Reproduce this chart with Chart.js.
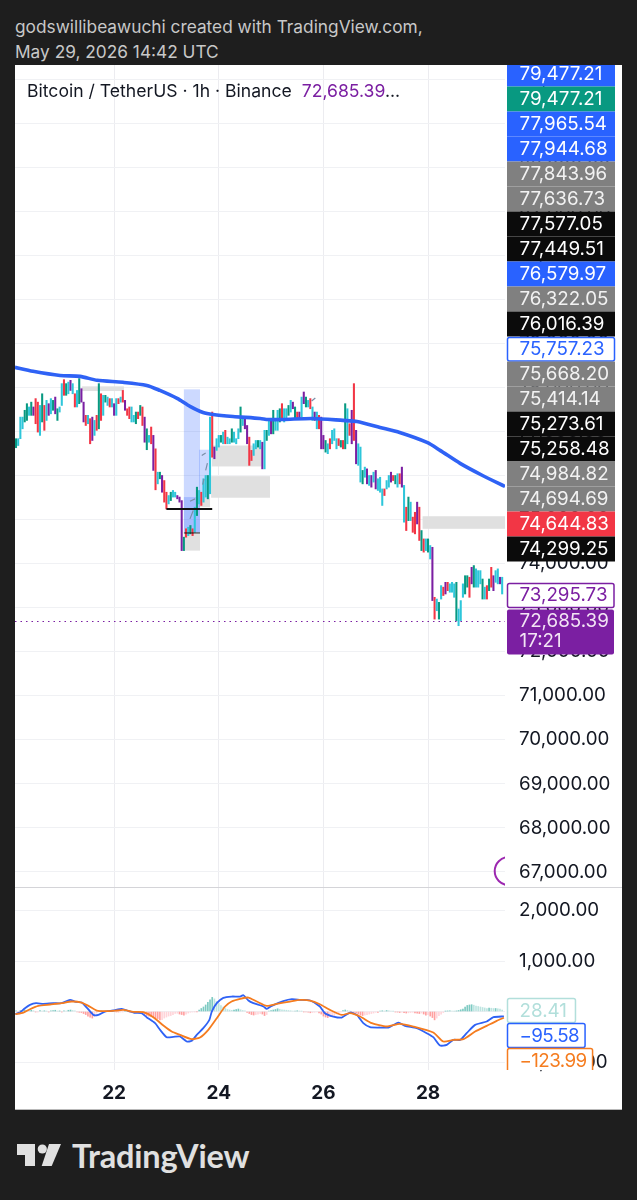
<!DOCTYPE html>
<html>
<head>
<meta charset="utf-8">
<script src="https://cdn.jsdelivr.net/npm/chart.js@4/dist/chart.umd.min.js"></script>
<style>
  html, body { margin: 0; padding: 0; background: #1e1e1e; }
  #page { position: relative; width: 637px; height: 1200px; overflow: hidden; font-family: Inter, sans-serif; }
  .caption { position: absolute; left: 15px; color: #c8c8c8; font-size: 17.3px; white-space: nowrap; }
  #panel { position: absolute; left: 15px; top: 65px; width: 607px; height: 1045px; background: #fff; }
  #panel:after { content: ''; position: absolute; left: 0; right: 0; bottom: 0; height: 1px; background: #b9b9b9; }
  #priceChart { position: absolute; left: 0; top: 0; }
  #macdChart { position: absolute; left: 0; top: 823px; }
  #divider { position: absolute; left: 0; right: 0; top: 822px; height: 1px; background: #d4d4d8; }
  #legend { position: absolute; left: 12px; top: 15px; font-size: 17.6px; color: #131722; white-space: nowrap; }
  #legend span { color: #7b1fa2; margin-left: 5px; }
  #brand { position: absolute; left: 72px; top: 1136px; font: 700 32.5px Lato, sans-serif; color: #e0e0e0; letter-spacing: -0.2px; }
  #logo { position: absolute; left: 0; top: 0; }
</style>
</head>
<body>
<div id="page">
  <div class="caption" style="top:16px">godswillibeawuchi created with TradingView.com,</div>
  <div class="caption" style="top:41px">May 29, 2026 14:42 UTC</div>
  <div id="panel">
    <canvas id="priceChart" width="607" height="823"></canvas>
    <canvas id="macdChart" width="607" height="222"></canvas>
    <div id="divider"></div>
    <div id="legend">Bitcoin / TetherUS · 1h · Binance <span>72,685.39</span>...</div>
  </div>
  <svg id="logo" width="72" height="1200" viewBox="0 0 72 1200">
    <polygon points="17,1144 35,1144 35,1166 25,1166 25,1155 17,1155" fill="#e0e0e0"/>
    <circle cx="42.3" cy="1149" r="4.6" fill="#e0e0e0"/>
    <polygon points="49,1144 61,1144 51.7,1166 41.7,1166" fill="#e0e0e0"/>
  </svg>
  <div id="brand">TradingView</div>
</div>
<script>
// hourly bars, hour 0 is the left edge of the picture, hour 45 is May 22
const barHighs = [
  76835,76835,77325,77325,77480,77630,77555,77665,77555,77745,77665,77590,77855,77590,77705,77630,
  77745,77705,77780,77515,77555,78085,78175,78085,78120,78160,78085,77855,77930,78200,77970,77665,
  77365,77365,77290,77325,77250,77365,78085,77855,77820,77820,77780,77745,77745,77630,77745,77745,
  77780,77930,77705,77515,77555,77555,77365,77440,77440,77590,77555,77325,77060,76910,77100,76910,
  76605,76075,76075,76000,75885,75620,75545,75620,75660,75620,75545,75510,75430,74600,74790,74825,
  74865,74790,75280,75735,75660,75620,75925,76000,76000,77325,77440,76645,76835,76910,76910,76985,
  77025,76870,76835,77060,76985,76835,77060,77555,77325,77325,77135,76870,76570,76720,76795,76795,
  76795,76755,77025,77025,77290,77250,77480,77250,77480,77515,77630,77515,77515,77590,77705,77665,
  77555,77440,77440,77780,77895,77780,77705,77745,77555,77440,77440,77365,77325,76910,76795,76720,
  76835,77025,77060,76835,76835,76795,76795,77630,77515,77175,77480,78085,77025,76720,76645,76115,
  76190,76150,76000,76000,76075,76115,75925,75960,75695,75695,75885,76000,76075,76000,76000,76040,
  76040,76190,75775,75280,75510,75395,75055,75165,75395,75280,74750,74560,74560,74560,74410,74370,
  73235,73195,73120,73500,73465,73575,73575,73540,73575,73540,73575,72970,73160,73540,73725,73725,
  73690,73915,73955,73880,73840,73840,73650,73465,73500,73650,73915,73725,73840,73880,73690,73690
];
const barLows = [
  76630,76680,76835,77060,77215,77250,77365,77365,77365,77175,76985,76910,77215,77025,77250,77365,
  77400,77480,77400,77250,77440,77590,77820,77820,77855,77930,77855,77555,77555,77630,77665,77215,
  77135,77175,76720,76795,76910,77025,77060,77250,77365,77665,77590,77555,77555,77365,77365,77630,
  77665,77665,77480,77365,77290,77215,77215,77175,77290,77365,77135,76755,76585,76755,76720,76115,
  75675,75810,75925,75620,75395,75240,75355,75430,75510,75510,75470,75395,74295,74295,74600,74635,
  74675,74635,74710,75090,75355,75320,75395,75510,75470,75585,76415,76380,76570,76645,76755,76720,
  76720,76720,76720,76755,76755,76720,76835,76985,77135,77060,76720,76230,76340,76455,76605,76645,
  76605,76150,76150,76795,76910,76945,76945,77025,77025,77215,77250,77215,77290,77365,77440,77515,
  77290,77290,77290,77325,77630,77555,77555,77515,77250,77250,77060,77060,76605,76605,76530,76495,
  76605,76720,76795,76605,76680,76645,76605,76605,76720,76910,76720,76795,76265,76230,75850,75810,
  75960,75810,75775,75735,75850,75695,75660,75620,75320,75545,75695,75735,75850,75885,75810,75735,
  75810,75735,74940,74750,74975,74975,74710,74675,74900,74525,74295,74260,74295,74260,74105,73160,
  72740,72930,72740,73195,73275,73310,73385,73350,73350,73235,72705,72590,72705,73235,73310,73465,
  73235,73540,73465,73465,73465,73540,73195,73195,73195,73385,73465,73385,73575,73540,73540,73310
];
// t teal, c cyan, r red, p purple
const barTints =
  'tcccttctprrctrcpctptccrtcpcrctpprcrpcrtrctcrcpcrcrprrcctrtrptcrprctprrctccppptrctrctcrcctcrpcctcrcctccctcpprrcct' +
  'cpctcptcctrcctcptrpcptcrcpcrpptcrcccrtrtcrprpcctcpcpcpcccrccprtcrpcrtcrrprtrctcprctcrprccctccctt' +
  'rptccctcrtrpccpctcrctr';
const maHours = [-0.5,7.8,20.2,29.4,37.2,49,60,66,73.9,79.8,85.8,90.4,99.5,112,115.6,122.5,136,150,156.4,167,176,188.5,194.5,203.7,214,224.3];
const maValues = [78455,78365,78270,78250,78160,78115,78045,77930,77750,77570,77430,77385,77340,77295,77270,77270,77295,77250,77225,77090,76975,76750,76570,76275,76000,75750];
const lastPrice = 72685.39;
const overlayPrice = 73295.73;
const priceTicks = [67000,68000,69000,70000,71000,72000,73000,74000,75000,76000,77000,78000,79000,80000,81000,82000,83000,84000,85000];
const dayHours = [45, 93, 141, 189];
const dayLabels = ['22', '24', '26', '28'];
// drawn boxes: first hour, last hour, top price, bottom price
const grayBoxes = [
  [30.3,49.5,78023,77917],
  [77,84.4,74675,74295],
  [84,89,75470,75280],
  [89.8,112.7,76680,76205],
  [89.5,116.5,75985,75495],
  [186.5,224.3,75075,74790]
];
const blueBoxes = [
  [77,84.4,77955,74710],
  [77,84.4,75510,74710],
  [84,89,76585,75470]
];
const blackLines = [[69,90,75240,2], [77,84.4,74695,1]];
const dashHours = [79.8,81.3,null,79.8,82.1,null,85.6,86.2,null,87,87.8,null,85.2,87,null,135.6,137.3];
const dashPrices = [75015,75205,null,75415,75470,null,75790,75925,null,76115,76280,null,76455,76510,null,77690,77760];
const arcHour = 226;
const arcPrice = 67020;
// side labels as they stack on the price axis: text and kind
const stackTexts = ['79,477.21','79,477.21','77,965.54','77,944.68','77,843.96','77,636.73','77,577.05','77,449.51','76,579.97','76,322.05','76,016.39','75,757.23','75,668.20','75,414.14','75,273.61','75,258.48','74,984.82','74,694.69','74,644.83','74,299.25'];
const stackKinds = ['blue','green','blue','blue','gray','gray','black','black','blue','gray','black','ma','gray','gray','black','black','gray','gray','red','black'];
// macd pane
const macdHours = [-0.3,1.8,4.1,6.4,9.2,12.5,17.1,20.9,24.8,27.1,30.1,32.7,35.5,37.8,40.8,44.6,48.5,51.5,54.6,57.6,59.9,63.8,66.1,69.1,72.2,75.2,78.3,80.6,82.9,85.9,88.7,89.8,92.1,95.1,98.9,102.8,104.3,106.6,108.9,113.5,115,117.3,122.6,126.5,130.3,134.9,139.4,141.7,145.6,149.4,153.2,156.3,159.3,162.4,167,170.8,175.4,178.4,183.8,188.4,191.4,194.5,197.6,200.6,203.7,206.7,210.6,215.9,219,223.8];
const macdValues = [-46,-20,66,132,165,152,165,165,231,198,178,66,-66,-66,0,20,53,13,-26,-33,-112,-231,-363,-508,-502,-495,-594,-581,-462,-330,-165,0,165,271,297,297,323,218,165,99,53,112,205,244,231,218,99,-33,-99,-119,-20,-66,-231,-310,-317,-317,-218,-284,-330,-429,-508,-673,-660,-561,-561,-429,-264,-198,-112,-95.58];
const signalHours = [-0.3,3.4,6.4,10.2,15.6,20.9,25.5,30.1,33.2,37,41.6,46.2,49.2,53.8,58.4,63,67.6,71.4,75.2,80.6,84.4,88.2,92.1,95.9,98.9,102.8,106.6,110.4,115,119.6,125.7,130.3,134.9,139.4,144,149.4,153.2,157.8,163.2,170,176.1,182.3,191.4,196,200.6,205.2,210.6,215.9,220.5,223.8];
const signalValues = [-53,-20,46,112,139,165,198,178,112,20,7,20,33,-7,-13,-112,-277,-396,-462,-548,-515,-363,-132,99,198,251,277,198,112,152,198,231,218,145,33,-66,-33,-99,-231,-297,-244,-297,-416,-594,-561,-548,-396,-284,-185,-123.99];
const histValues = [
  15,-10,20,25,30,20,15,25,15,-10,-8,20,10,15,10,-10,15,20,25,10,12,-10,15,10,25,30,20,15,-10,-15,
  -20,-40,-60,-90,-110,-130,-100,
  -30,10,15,10,5,12,8,15,10,-8,-10,-6,-5,8,6,-5,-8,-6,-10,-15,-20,
  -30,-60,-80,-90,-100,-120,-130,-140,-165,-160,-130,-110,-90,-80,
  -60,-40,-35,-50,-60,-70,-50,-30,-15,-10,-5,-5,
  30,60,90,130,180,230,280,
  250,200,160,120,90,60,40,30,25,30,40,50,35,20,15,
  -20,-40,-60,-70,-60,-50,-40,-50,-80,-60,
  10,20,30,40,55,45,35,30,25,20,15,10,10,15,10,
  8,-8,-10,-15,-25,-20,-15,-10,
  -30,-50,-90,-110,-120,-100,-90,-80,-50,-30,-10,20,
  30,20,10,-10,-20,
  -30,-50,-70,-80,-70,-60,-50,-40,-30,
  -15,-20,10,15,10,20,15,10,8,-10,-12,-20,-15,-25,-30,-25,-20,-15,-30,-35,
  -40,-30,-50,-70,-60,-90,-120,-165,-130,-80,-50,
  -20,8,12,15,10,8,12,20,35,
  50,90,120,130,135,125,110,100,90,80,70,
  60,70,65,60,60,55,50,28.41
];
const macdTicks = [-1000, 0, 1000, 2000];
const macdLabelTexts = ['28.41', '\u221295.58', '\u2212123.99'];
const macdLabelColors = ['#b2dfdb', '#2962ff', '#f57c1f'];

const tintColors = { t: '#089981', c: '#2ec6da', r: '#f23645', p: '#7b1fa2' };
const kindColors = { blue: '#2962ff', green: '#089981', gray: '#808080', black: '#0b0b0b', red: '#f23645' };
const gridColor = '#f0f1f4';
const tickFont = { family: 'Inter', size: 18.8 };
const labelFont = '18.8px Inter';
const hourMin = -0.46, hourMax = 224.3;

function fmtPrice(v) {
    const s = Math.abs(v).toLocaleString('en-US', { minimumFractionDigits: 2, maximumFractionDigits: 2 });
    return (v < 0 ? '\u2212' : '') + s;
}
function pairs(xs, ys) {
    return xs.map((x, i) => ({ x: x, y: ys[i] }));
}
function zip(xs, ys) {
    return xs.map((x, i) => (x === null ? { x: null, y: null } : { x: x, y: ys[i] }));
}
function roundBox(ctx, x, y, w, h, r) {
    ctx.beginPath();
    ctx.roundRect(x, y, w, h, r);
}
function hourAxis(showLabels) {
    return {
        type: 'linear', min: hourMin, max: hourMax, offset: false,
        afterBuildTicks: axis => { axis.ticks = dayHours.map(v => ({ value: v })); },
        afterFit: axis => { axis.height = showLabels ? 40 : 0; },
        grid: { color: '#ececf0', drawTicks: false, offset: false },
        border: { display: false },
        ticks: {
            display: showLabels, maxRotation: 0, autoSkip: false, padding: 12,
            font: { family: 'Inter', size: 19, weight: 700 }, color: '#131722',
            callback: v => dayLabels[dayHours.indexOf(v)]
        }
    };
}
function valueAxis(min, max, ticks) {
    return {
        position: 'right', min: min, max: max,
        afterBuildTicks: axis => { axis.ticks = ticks.map(v => ({ value: v })); },
        afterFit: axis => {
            axis.width = 117;
            // the tick padding would otherwise be taken off the pane's height
            axis.paddingTop = 0;
            axis.paddingBottom = 0;
        },
        grid: { color: gridColor, drawTicks: false },
        border: { display: false },
        ticks: { crossAlign: 'near', padding: 14, font: tickFont, color: '#131722', callback: fmtPrice }
    };
}

// boxes behind the bars
const boxesPlugin = {
    id: 'boxes',
    beforeDatasetsDraw(chart) {
        const { ctx, scales: { x, y } } = chart;
        ctx.save();
        grayBoxes.forEach(b => {
            ctx.fillStyle = '#e0e0e0';
            ctx.fillRect(x.getPixelForValue(b[0]), y.getPixelForValue(b[2]), x.getPixelForValue(b[1]) - x.getPixelForValue(b[0]), y.getPixelForValue(b[3]) - y.getPixelForValue(b[2]));
        });
        blueBoxes.forEach(b => {
            ctx.fillStyle = 'rgba(41,98,255,0.24)';
            ctx.fillRect(x.getPixelForValue(b[0]), y.getPixelForValue(b[2]), x.getPixelForValue(b[1]) - x.getPixelForValue(b[0]), y.getPixelForValue(b[3]) - y.getPixelForValue(b[2]));
        });
        ctx.restore();
    },
    afterDatasetsDraw(chart) {
        const { ctx, chartArea, scales: { x, y } } = chart;
        ctx.save();
        blackLines.forEach(l => {
            ctx.strokeStyle = '#111';
            ctx.lineWidth = l[3];
            ctx.beginPath();
            ctx.moveTo(x.getPixelForValue(l[0]), y.getPixelForValue(l[2]));
            ctx.lineTo(x.getPixelForValue(l[1]), y.getPixelForValue(l[2]));
            ctx.stroke();
        });
        // purple circle cut by the axis
        ctx.beginPath();
        ctx.rect(chartArea.left, chartArea.top, chartArea.width, chartArea.height);
        ctx.clip();
        ctx.strokeStyle = '#9c27b0';
        ctx.lineWidth = 2;
        ctx.beginPath();
        ctx.arc(x.getPixelForValue(arcHour), y.getPixelForValue(arcPrice), 14, 0, Math.PI * 2);
        ctx.stroke();
        ctx.restore();
    }
};

// price labels on top of the axis ticks
const priceLabelsPlugin = {
    id: 'priceLabels',
    afterDraw(chart) {
        const { ctx, scales: { y } } = chart;
        const left = 492, width = 108;
        ctx.save();
        ctx.font = labelFont;
        ctx.textBaseline = 'middle';
        stackTexts.forEach((t, i) => {
            const mid = 9 + 25 * i;
            const kind = stackKinds[i];
            if (kind === 'ma') {
                ctx.fillStyle = '#fff';
                ctx.strokeStyle = '#2962ff';
                ctx.lineWidth = 1.5;
                roundBox(ctx, left + 0.5, mid - 11.5, width - 1, 23.5, 2);
                ctx.fill();
                ctx.stroke();
                ctx.fillStyle = '#2962ff';
            } else {
                ctx.fillStyle = kindColors[kind];
                ctx.fillRect(left, mid - 12.5, width, 25);
                ctx.fillStyle = kind === 'gray' ? '#f2f2f2' : '#fff';
            }
            ctx.fillText(t, left + 12.5, mid + 0.5);
        });
        const py = y.getPixelForValue(overlayPrice);
        ctx.fillStyle = '#fff';
        ctx.strokeStyle = '#7b1fa2';
        ctx.lineWidth = 1.5;
        roundBox(ctx, left + 0.5, py - 11, width - 1.5, 24, 2);
        ctx.fill();
        ctx.stroke();
        ctx.fillStyle = '#7b1fa2';
        ctx.fillText(fmtPrice(overlayPrice), left + 12.5, py + 1);
        const ly = y.getPixelForValue(lastPrice);
        ctx.fillStyle = '#7b1fa2';
        roundBox(ctx, left, ly - 12, width - 1, 45, 2);
        ctx.fill();
        ctx.fillStyle = '#f3e5f5';
        ctx.fillText(fmtPrice(lastPrice), left + 12.5, ly);
        ctx.fillText('17:21', left + 12.5, ly + 20);
        ctx.restore();
    }
};

new Chart(document.getElementById('priceChart'), {
    type: 'bar',
    data: {
        datasets: [
            {
                type: 'line', data: pairs(maHours, maValues), borderColor: '#2f62f5', borderWidth: 3.6,
                pointRadius: 0, tension: 0.25, order: 1
            },
            {
                type: 'line', data: pairs([hourMin, hourMax], [lastPrice, lastPrice]), borderColor: '#7b1fa2',
                borderWidth: 1.2, borderDash: [1.5, 4], pointRadius: 0, order: 2
            },
            {
                type: 'line', data: zip(dashHours, dashPrices), borderColor: '#7a8fa8', borderWidth: 1.2,
                pointRadius: 0, spanGaps: false, order: 3
            },
            {
                data: barHighs.map((h, i) => ({ x: i, y: [barLows[i], h] })),
                backgroundColor: barTints.split('').map(k => tintColors[k]),
                barThickness: 1.4, order: 4
            }
        ]
    },
    options: {
        responsive: false, animation: false,
        layout: { padding: 0, autoPadding: false },
        plugins: { legend: { display: false }, tooltip: { enabled: false } },
        scales: { x: hourAxis(false), y: valueAxis(66636, 85318, priceTicks) }
    },
    plugins: [boxesPlugin, priceLabelsPlugin]
});

// macd boxes stack under the pane's top edge
const macdLabelsPlugin = {
    id: 'macdLabels',
    afterDraw(chart) {
        const { ctx, chartArea } = chart;
        const left = 492.5;
        ctx.save();
        ctx.beginPath();
        ctx.rect(0, 0, chart.width, chartArea.bottom);
        ctx.clip();
        ctx.font = labelFont;
        ctx.textBaseline = 'middle';
        macdLabelTexts.forEach((t, i) => {
            const top = 110.5 + 25 * i;
            // the minus sign runs wider here than in the picture
            ctx.letterSpacing = t.startsWith('\u2212') ? '-0.6px' : '0px';
            const w = 12 + ctx.measureText(t).width + (i === 0 ? 8.5 : 6);
            ctx.fillStyle = '#fff';
            ctx.strokeStyle = macdLabelColors[i];
            ctx.lineWidth = 1.5;
            roundBox(ctx, left, top, w, 24, 2);
            ctx.fill();
            ctx.stroke();
            ctx.fillStyle = macdLabelColors[i];
            ctx.fillText(t, left + 12, top + 12.5);
        });
        ctx.restore();
    }
};

new Chart(document.getElementById('macdChart'), {
    type: 'bar',
    data: {
        datasets: [
            {
                type: 'line', data: pairs(signalHours, signalValues), borderColor: '#f57c1f', borderWidth: 1.8,
                pointRadius: 0, tension: 0.2, order: 1
            },
            {
                type: 'line', data: pairs(macdHours, macdValues), borderColor: '#2f62f5', borderWidth: 1.8,
                pointRadius: 0, tension: 0.2, order: 2
            },
            {
                data: histValues.map((v, i) => ({ x: i, y: v })),
                backgroundColor: histValues.map((v, i) => {
                    const prev = i > 0 ? histValues[i - 1] : 0;
                    if (v >= 0) return v >= prev ? 'rgba(38,166,154,0.6)' : 'rgba(178,223,219,0.85)';
                    return v <= prev ? 'rgba(255,82,82,0.55)' : 'rgba(255,205,210,0.85)';
                }),
                barThickness: 1, order: 3
            }
        ]
    },
    options: {
        responsive: false, animation: false,
        layout: { padding: 0, autoPadding: false },
        plugins: { legend: { display: false }, tooltip: { enabled: false } },
        scales: { x: hourAxis(true), y: valueAxis(-1158, 2446, macdTicks) }
    },
    plugins: [macdLabelsPlugin]
});
</script>
</body>
</html>
